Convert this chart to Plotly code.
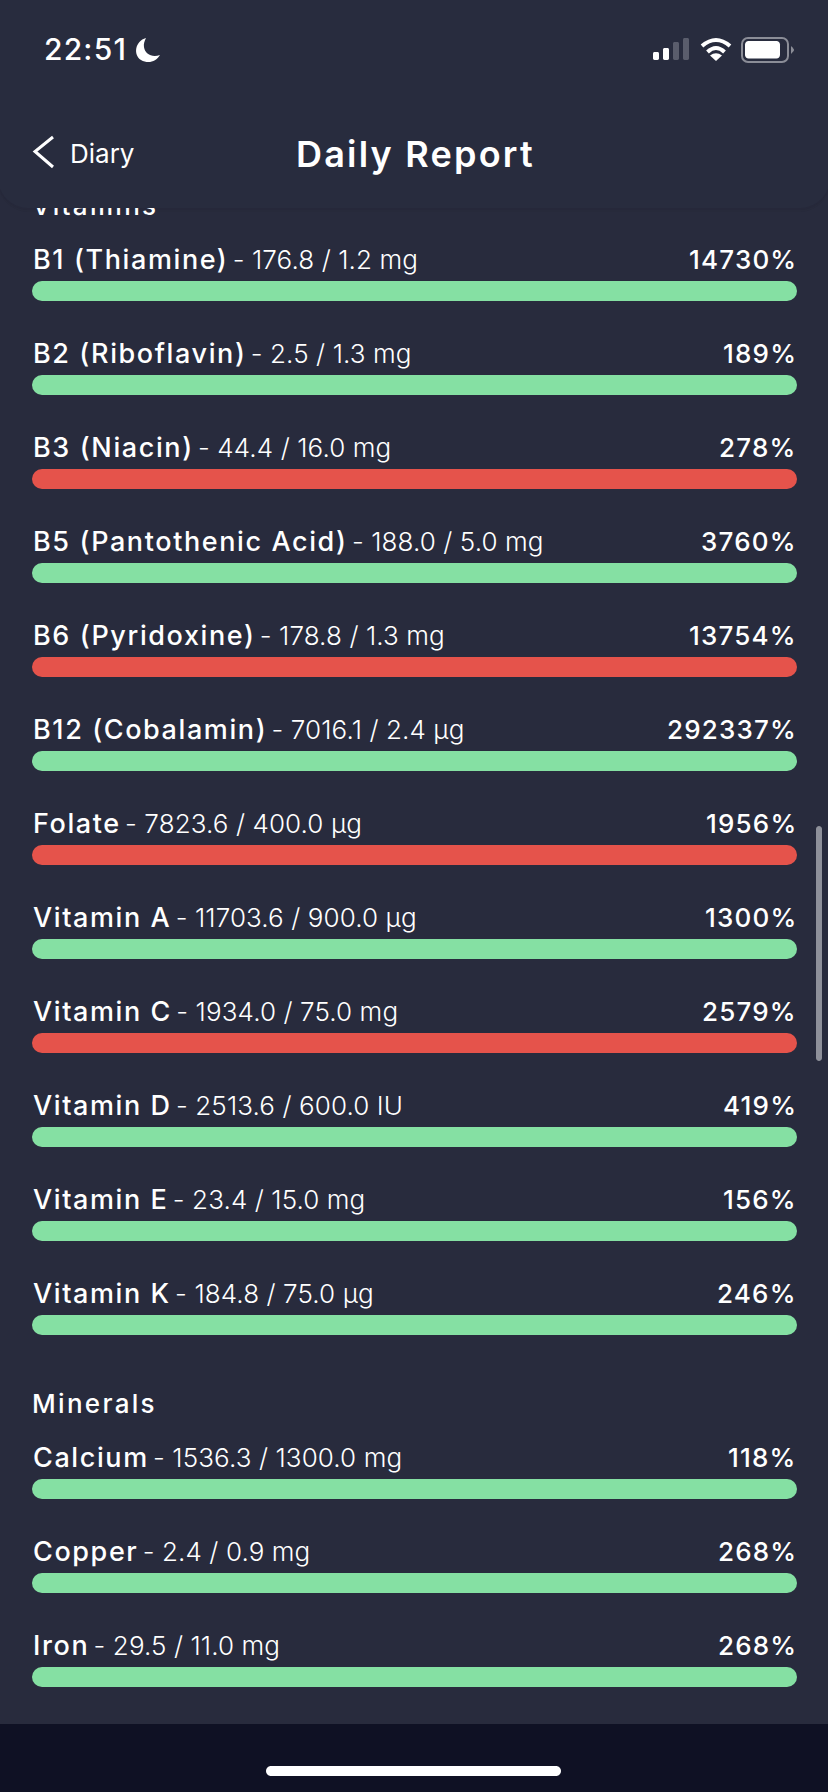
import plotly.graph_objects as go

W, H = 828, 1792

vit_names = ["B1 (Thiamine)", "B2 (Riboflavin)", "B3 (Niacin)", "B5 (Pantothenic Acid)", "B6 (Pyridoxine)",
             "B12 (Cobalamin)", "Folate", "Vitamin A", "Vitamin C", "Vitamin D", "Vitamin E", "Vitamin K"]
vit_amounts = [176.8, 2.5, 44.4, 188.0, 178.8, 7016.1, 7823.6, 11703.6, 1934.0, 2513.6, 23.4, 184.8]
vit_targets = [1.2, 1.3, 16.0, 5.0, 1.3, 2.4, 400.0, 900.0, 75.0, 600.0, 15.0, 75.0]
vit_units = ["mg", "mg", "mg", "mg", "mg", "µg", "µg", "µg", "mg", "IU", "mg", "µg"]
vit_pct = [14730, 189, 278, 3760, 13754, 292337, 1956, 1300, 2579, 419, 156, 246]
vit_over = [False, False, True, False, True, False, True, False, True, False, False, False]

min_names = ["Calcium", "Copper", "Iron"]
min_amounts = [1536.3, 2.4, 29.5]
min_targets = [1300.0, 0.9, 11.0]
min_units = ["mg", "mg", "mg"]
min_pct = [118, 268, 268]
min_over = [False, False, False]

BG = "#282b3d"
DARK = "#0f1124"
GREEN = "#85e0a3"
RED = "#e5534b"
FONT = "Inter"

ROW_PX = 94
FIRST_BAR = 291
SECTION_GAP = 70 / ROW_PX
PLOT_TOP, PLOT_BOTTOM = 208, 1724


def px(x):
    return x / W


def py(y):
    return 1 - y / H


def path(*parts):
    # parts: letters and (x, y) pixel pairs, converted to paper coordinates
    out = []
    for p in parts:
        out.append(p if isinstance(p, str) else f"{px(p[0]):.5f},{py(p[1]):.5f}")
    return " ".join(out)


def rrect(x0, y0, x1, y1, r):
    k = r * 0.45
    return path("M", (x0 + r, y0), "L", (x1 - r, y0),
                "C", (x1 - k, y0), (x1, y0 + k), (x1, y0 + r), "L", (x1, y1 - r),
                "C", (x1, y1 - k), (x1 - k, y1), (x1 - r, y1), "L", (x0 + r, y1),
                "C", (x0 + k, y1), (x0, y1 - k), (x0, y1 - r), "L", (x0, y0 + r),
                "C", (x0, y0 + k), (x0 + k, y0), (x0 + r, y0), "Z")


def solid(d, color, layer="above"):
    return dict(type="path", xref="paper", yref="paper", path=d, fillcolor=color, line_width=0, layer=layer)


def stroke(d, color, width):
    return dict(type="path", xref="paper", yref="paper", path=d, line=dict(color=color, width=width))


def label(name, amount, target, unit):
    return (f'<span style="font-size:27px;font-weight:540;letter-spacing:1.6px">{name}</span>'
            f'<span style="letter-spacing:-3px"> </span>'
            f'<span style="font-weight:300;letter-spacing:0.1px">- {amount:.1f} / {target:.1f} {unit}</span>')


vit_rows = list(range(len(vit_names)))
min_rows = [len(vit_names) + SECTION_GAP + i for i in range(len(min_names))]

rows = vit_rows + min_rows
names = vit_names + min_names
amounts = vit_amounts + min_amounts
targets = vit_targets + min_targets
units = vit_units + min_units
pcts = vit_pct + min_pct
colors = [RED if o else GREEN for o in vit_over + min_over]

fig = go.Figure()

# an explicit base array makes plotly round both ends of the bar
fig.add_trace(go.Bar(orientation="h", base=[0] * len(rows), x=[min(p, 100) for p in pcts], y=rows,
                     width=20 / ROW_PX, marker=dict(color=colors, line_width=0), hoverinfo="skip"))

# section headings are traces so that the plot area clips them under the header
fig.add_trace(go.Scatter(
    x=[0, 0],
    y=[vit_rows[0] - 0.742, min_rows[0] - 0.742],
    mode="text",
    text=['<span style="letter-spacing:2.3px">Vitamins</span>', '<span style="letter-spacing:2.3px">Minerals</span>'],
    textposition="top right",
    textfont=dict(family=FONT, size=26, color="#ffffff", weight=500),
    hoverinfo="skip",
    cliponaxis=True,
))

annotations = []
for i, row in enumerate(rows):
    annotations.append(dict(x=0, y=row, xref="x", yref="y", xanchor="left", yanchor="bottom", yshift=13,
                            xshift=-1, showarrow=False, text=label(names[i], amounts[i], targets[i], units[i]),
                            font=dict(family=FONT, size=26, color="#ffffff")))
    annotations.append(dict(x=100, y=row, xref="x", yref="y", xanchor="right", yanchor="bottom", yshift=14,
                            xshift=2, showarrow=False,
                            text=f'<span style="letter-spacing:1.2px">{pcts[i]}%</span>',
                            font=dict(family=FONT, size=26, color="#ffffff", weight=540)))


def fixed(text, x, y, size, weight, anchor="left", spacing=0):
    return dict(x=px(x), y=py(y), xref="paper", yref="paper", xanchor=anchor, yanchor="middle", showarrow=False,
                text=f'<span style="letter-spacing:{spacing}px">{text}</span>',
                font=dict(family=FONT, size=size, color="#ffffff", weight=weight))


annotations += [
    fixed("22:51", 42, 49, 30, 500, spacing=1.2),
    fixed("Diary", 67.5, 153, 26, 400),
    fixed("Daily Report", 415, 154, 36, 600, anchor="center", spacing=2.2),
]

shapes = [
    # header with faint shadow below it
    solid(rrect(-2, -30, W + 2, 212, 30), "rgba(20,22,36,0.04)", "below"),
    solid(rrect(-2, -30, W + 2, 210, 30), "rgba(20,22,36,0.05)", "below"),
    solid(rrect(-2, -30, W + 2, 208, 30), "#282c3e", "below"),
    # bottom band and home indicator
    solid(path("M", (0, PLOT_BOTTOM), "L", (W, PLOT_BOTTOM), "L", (W, H), "L", (0, H), "Z"), DARK),
    solid(rrect(266, 1766, 561, 1776, 5), "#ffffff"),
    # scrollbar
    solid(rrect(816, 826, 822, 1061, 3), "#8e909a"),
    # back chevron
    stroke(path("M", (53, 137), "L", (35, 151.5), "L", (53, 167)), "#ffffff", 3),
    # moon
    solid(path("M", (146, 38), "C", (135, 41), (133, 55), (141, 60), "C", (148, 64), (156, 62), (160, 55),
               "C", (152, 58), (145, 54), (144, 47), "C", (143.5, 44), (144.5, 41), (146, 38), "Z"), "#ffffff"),
    # signal
    solid(rrect(653, 52, 659, 60, 1.5), "#ffffff"),
    solid(rrect(663, 48, 669, 60, 1.5), "#ffffff"),
    solid(rrect(673, 42, 679, 60, 1.5), "#5a5d6c"),
    solid(rrect(683, 38, 689, 60, 1.5), "#5a5d6c"),
    # wifi
    stroke(path("M", (702, 46), "Q", (716, 34), (730, 46)), "#ffffff", 4),
    stroke(path("M", (707.5, 52), "Q", (716, 44), (724.5, 52)), "#ffffff", 4),
    solid(path("M", (716, 61), "L", (710, 55.5), "Q", (716, 51), (722, 55.5), "Z"), "#ffffff"),
    # battery
    dict(type="path", xref="paper", yref="paper", path=rrect(742, 38, 788, 62, 6),
         line=dict(color="#8b8d97", width=2)),
    solid(rrect(745, 41, 780, 58.5, 3.5), "#ffffff"),
    solid(path("M", (791, 46), "Q", (794, 49), (794, 50), "Q", (794, 51), (791, 54), "Z"), "#8b8d97"),
]

fig.update_layout(
    width=W,
    height=H,
    margin=dict(l=0, r=0, t=0, b=0),
    autosize=False,
    paper_bgcolor=BG,
    plot_bgcolor="rgba(0,0,0,0)",
    showlegend=False,
    barcornerradius=10,
    xaxis=dict(domain=[px(32), px(797)], range=[0, 100], visible=False, fixedrange=True),
    yaxis=dict(domain=[py(PLOT_BOTTOM), py(PLOT_TOP)],
               range=[(PLOT_BOTTOM - FIRST_BAR) / ROW_PX, (PLOT_TOP - FIRST_BAR) / ROW_PX],
               visible=False, fixedrange=True),
    shapes=shapes,
    annotations=annotations,
)

fig.write_html("out.html", config=dict(displayModeBar=False),
               post_script="document.body.style.margin='0';document.body.style.background='%s';" % BG)
